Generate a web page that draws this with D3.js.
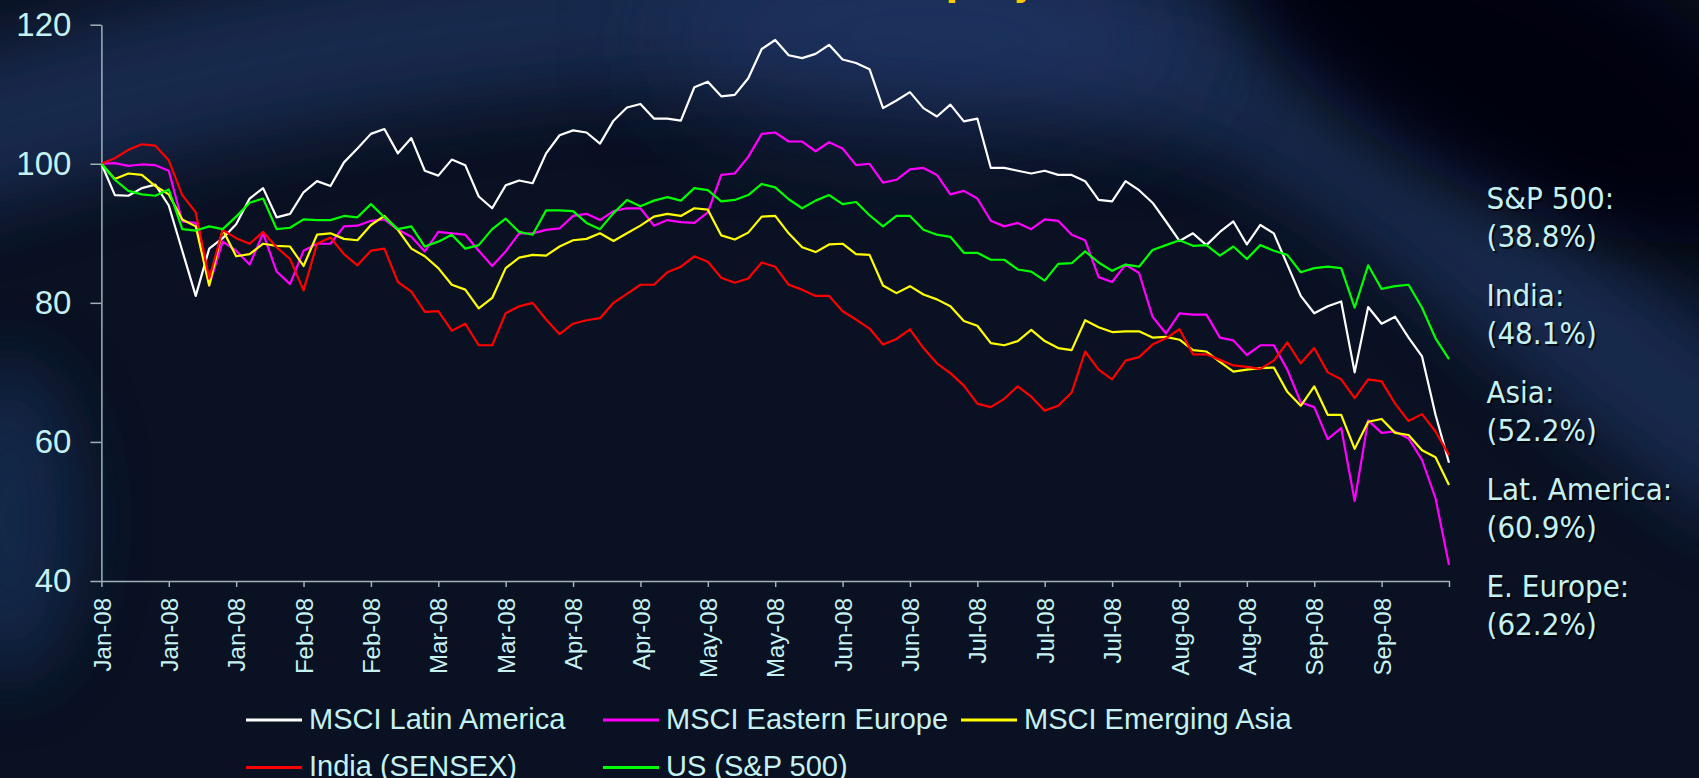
<!DOCTYPE html>
<html>
<head>
<meta charset="utf-8">
<script src="https://cdn.jsdelivr.net/npm/d3@7"></script>
<style>
  html, body { margin: 0; padding: 0; background: #0a1122; overflow: hidden; }
  svg { display: block; }
</style>
</head>
<body>
<svg id="chart" width="1699" height="778"></svg>
<script>
// every 2nd trading session, Jan-08 .. Sep-08 (index 0 = 100)
const days = d3.range(0, 201, 2);
const tickDays = d3.range(0, 201, 10);
const tickLabels = ["Jan-08", "Jan-08", "Jan-08", "Feb-08", "Feb-08", "Mar-08", "Mar-08",
  "Apr-08", "Apr-08", "May-08", "May-08", "Jun-08", "Jun-08", "Jul-08", "Jul-08", "Jul-08",
  "Aug-08", "Aug-08", "Sep-08", "Sep-08"];
const yTicks = [40, 60, 80, 100, 120];

const latam = [100, 95.5, 95.4, 96.5, 97.0, 94.0, 87.5, 81.0, 87.8, 89.3,
  91.3, 95.0, 96.5, 92.3, 92.8, 95.9, 97.5, 96.8, 100.2, 102.2,
  104.3, 105.0, 101.5, 103.7, 99.0, 98.3, 100.6, 99.8, 95.3, 93.6,
  96.9, 97.6, 97.2, 101.5, 104.1, 104.8, 104.5, 102.9, 106.2, 108.1,
  108.6, 106.5, 106.5, 106.2, 111.0, 111.8, 109.7, 109.9, 112.3, 116.5,
  117.8, 115.6, 115.2, 115.8, 117.1, 115.0, 114.5, 113.6, 108.0, 109.1,
  110.3, 108.0, 106.8, 108.5, 106.1, 106.5, 99.4, 99.4, 99.0, 98.6,
  99.0, 98.4, 98.4, 97.5, 94.8, 94.6, 97.5, 96.2, 94.4, 91.7,
  88.9, 90.0, 88.3, 90.2, 91.7, 88.4, 91.2, 90.0, 85.5, 81.0,
  78.5, 79.5, 80.2, 70.0, 79.4, 77.0, 78.0, 75.0, 72.3, 63.9, 57.0];

const eastEurope = [100, 100.1, 99.7, 99.9, 99.8, 99.0, 91.7, 91.5, 82.5, 88.8,
  87.5, 85.5, 90.0, 84.5, 82.7, 87.5, 88.5, 88.5, 91.0, 91.1,
  91.8, 92.0, 90.5, 89.5, 87.4, 90.2, 90.0, 89.8, 87.5, 85.3,
  87.4, 90.0, 90.0, 90.5, 90.7, 92.5, 92.8, 91.9, 93.2, 93.6,
  93.6, 91.1, 91.9, 91.6, 91.5, 93.0, 98.4, 98.6, 101.0, 104.3,
  104.5, 103.2, 103.2, 101.8, 103.1, 102.2, 99.8, 100.0, 97.3, 97.7,
  99.2, 99.4, 98.4, 95.6, 96.1, 95.0, 91.8, 91.0, 91.5, 90.6,
  92.0, 91.8, 89.8, 89.0, 83.7, 83.0, 85.5, 84.3, 78.0, 75.6,
  78.5, 78.3, 78.3, 75.0, 74.6, 72.5, 73.9, 73.9, 70.4, 65.7,
  65.0, 60.4, 62.0, 51.5, 63.1, 61.3, 61.5, 60.5, 57.4, 51.9, 42.3];

const emAsia = [100, 97.8, 98.6, 98.4, 96.8, 95.6, 92.0, 91.0, 82.5, 90.5,
  86.7, 87.0, 88.5, 88.2, 88.1, 85.3, 89.8, 90.0, 89.2, 89.0,
  91.2, 92.5, 90.5, 87.8, 86.7, 85.0, 82.6, 81.9, 79.2, 80.7,
  85.0, 86.5, 86.9, 86.8, 88.1, 89.0, 89.2, 90.0, 88.9, 90.0,
  91.1, 92.4, 92.8, 92.5, 93.6, 93.4, 89.7, 89.1, 90.1, 92.4,
  92.5, 90.0, 88.0, 87.3, 88.4, 88.5, 87.0, 86.9, 82.5, 81.4,
  82.4, 81.2, 80.5, 79.5, 77.4, 76.7, 74.2, 73.9, 74.5, 76.1,
  74.5, 73.5, 73.2, 77.5, 76.5, 75.8, 75.9, 75.9, 75.0, 75.1,
  74.7, 73.2, 73.0, 71.5, 70.1, 70.4, 70.6, 70.7, 67.2, 65.2,
  68.0, 63.9, 63.9, 59.0, 62.9, 63.3, 61.3, 61.0, 58.8, 57.8, 53.8];

const sensex = [100, 100.8, 102.0, 102.8, 102.6, 100.5, 95.5, 93.0, 83.5, 90.5,
  89.3, 88.5, 90.2, 88.0, 86.3, 81.8, 88.5, 89.4, 87.0, 85.4,
  87.5, 87.8, 83.0, 81.6, 78.7, 78.8, 76.0, 77.0, 73.9, 73.9,
  78.5, 79.5, 80.0, 77.6, 75.5, 77.0, 77.5, 77.8, 80.0, 81.3,
  82.6, 82.6, 84.4, 85.2, 86.7, 85.9, 83.6, 82.9, 83.5, 85.8,
  85.2, 82.6, 81.9, 81.0, 81.0, 78.8, 77.6, 76.3, 74.0, 74.8,
  76.2, 73.5, 71.3, 69.9, 68.1, 65.5, 65.0, 66.2, 68.0, 66.5,
  64.5, 65.2, 67.1, 73.0, 70.4, 69.0, 71.7, 72.2, 74.0, 74.9,
  76.2, 72.6, 72.6, 71.8, 71.0, 70.8, 70.5, 71.7, 74.3, 71.3,
  73.5, 70.0, 69.0, 66.3, 69.0, 68.7, 65.5, 63.0, 64.0, 61.5, 58.1];

const sp500 = [100, 97.7, 96.1, 95.6, 95.4, 96.3, 90.6, 90.4, 91.0, 90.6,
  92.4, 94.4, 95.0, 90.6, 90.8, 92.0, 91.9, 91.9, 92.5, 92.3,
  94.2, 92.3, 90.6, 91.0, 88.1, 88.8, 89.8, 87.8, 88.3, 90.6,
  92.1, 90.2, 89.8, 93.3, 93.3, 93.2, 91.5, 90.6, 92.9, 94.8,
  93.9, 94.7, 95.2, 94.7, 96.5, 96.2, 94.6, 94.8, 95.5, 97.1,
  96.6, 94.9, 93.6, 94.7, 95.5, 94.2, 94.5, 92.6, 91.0, 92.5,
  92.5, 90.5, 89.8, 89.5, 87.2, 87.2, 86.2, 86.2, 84.8, 84.5,
  83.2, 85.6, 85.7, 87.4, 85.8, 84.6, 85.5, 85.2, 87.6, 88.3,
  89.0, 88.2, 88.3, 86.8, 88.1, 86.3, 88.3, 87.5, 86.9, 84.4,
  85.0, 85.2, 85.0, 79.3, 85.4, 82.0, 82.4, 82.6, 79.3, 74.9, 71.9];

const seriesNames = ["MSCI Latin America", "MSCI Eastern Europe", "MSCI Emerging Asia",
  "India (SENSEX)", "US (S&P 500)"];
const seriesColors = ["#ffffff", "#ff00ff", "#ffff00", "#ff0000", "#00ff00"];
const seriesValues = [latam, eastEurope, emAsia, sensex, sp500];

const notes = [["S&P 500:", "(38.8%)"], ["India:", "(48.1%)"], ["Asia:", "(52.2%)"],
  ["Lat. America:", "(60.9%)"], ["E. Europe:", "(62.2%)"]];

const W = 1699, H = 778;
const svg = d3.select("#chart");
const textColor = "#c6f1f1";
const axisColor = "#9fb2b8";

// ---- background (slide gradient with soft glows)
const defs = svg.append("defs");
[["blur60", 60], ["blur35", 35]].forEach(function(b) {
  defs.append("filter").attr("id", b[0])
    .attr("x", "-50%").attr("y", "-50%").attr("width", "200%").attr("height", "200%")
    .append("feGaussianBlur").attr("stdDeviation", b[1]);
});
const bg = svg.append("g");
bg.append("rect").attr("width", W).attr("height", H).attr("fill", "#0a1122");
bg.append("path")
  .attr("d", "M-80,150 C250,40 700,-30 1050,30 S1450,260 1780,470")
  .attr("fill", "none").attr("stroke", "#1b315c").attr("stroke-width", 150)
  .attr("opacity", 0.75).attr("filter", "url(#blur35)");
bg.append("ellipse").attr("cx", 930).attr("cy", 40).attr("rx", 260).attr("ry", 90)
  .attr("fill", "#22396a").attr("opacity", 0.6).attr("filter", "url(#blur60)");
bg.append("ellipse").attr("cx", 1520).attr("cy", 70).attr("rx", 300).attr("ry", 130)
  .attr("transform", "rotate(25,1520,70)")
  .attr("fill", "#02050c").attr("opacity", 0.9).attr("filter", "url(#blur35)");
bg.append("ellipse").attr("cx", 10).attr("cy", 520).attr("rx", 70).attr("ry", 160)
  .attr("fill", "#15305a").attr("opacity", 0.7).attr("filter", "url(#blur35)");

// ---- title (mostly cropped off the top of the slide)
const title = svg.append("text")
  .attr("x", 0).attr("y", -6)
  .attr("font-family", "DejaVu Sans Condensed, DejaVu Sans, sans-serif")
  .attr("font-weight", "bold").attr("font-size", 40)
  .attr("fill", "#ffc800")
  .text("Global Equity Market Performance");
const qPos = title.node().getStartPositionOfChar(8).x;
title.attr("x", 952 - 0.55 * 40 * 0.9 - qPos);

// ---- scales
const x = d3.scaleLinear().domain([0, 200]).range([101.4, 1449]);
const y = d3.scaleLinear().domain([40, 120]).range([581, 24.7]);

// ---- y axis
const yAxis = svg.append("g")
  .attr("transform", "translate(" + x(0) + ",0)")
  .call(d3.axisLeft(y).tickValues(yTicks).tickSize(11).tickSizeOuter(0).tickPadding(19));
yAxis.select(".domain").attr("stroke", axisColor).attr("stroke-width", 1.5);
yAxis.selectAll(".tick line").attr("stroke", axisColor).attr("stroke-width", 1.5);
yAxis.selectAll(".tick text")
  .attr("fill", textColor)
  .attr("font-family", "Liberation Sans, Arial, sans-serif")
  .attr("font-size", 33);

// ---- x axis
const xAxis = svg.append("g")
  .attr("transform", "translate(0," + y(40) + ")")
  .call(d3.axisBottom(x).tickValues(tickDays).tickSize(6).tickSizeOuter(0)
    .tickFormat(function(d, i) { return tickLabels[i] || ""; }));
xAxis.select(".domain").attr("stroke", axisColor).attr("stroke-width", 1.5);
xAxis.selectAll(".tick line").attr("stroke", axisColor).attr("stroke-width", 1.5);
xAxis.selectAll(".tick text")
  .attr("fill", textColor)
  .attr("font-family", "Liberation Sans, Arial, sans-serif")
  .attr("font-size", 24)
  .attr("transform", "rotate(-90)")
  .attr("text-anchor", "end")
  .attr("x", -17).attr("y", 0).attr("dy", "0.36em");

// ---- lines
const line = d3.line()
  .x(function(d, i) { return x(days[i]); })
  .y(function(d) { return y(d); });

svg.append("g").selectAll("path")
  .data(seriesValues)
  .enter().append("path")
    .attr("d", line)
    .attr("fill", "none")
    .attr("stroke", function(d, i) { return seriesColors[i]; })
    .attr("stroke-width", 2.2)
    .attr("stroke-linejoin", "round");

// ---- legend
const legendPos = [[246, 720], [603, 720], [961, 720], [246, 767.5], [603, 767.5]];
const legend = svg.append("g").selectAll("g")
  .data(seriesNames)
  .enter().append("g")
    .attr("transform", function(d, i) { return "translate(" + legendPos[i][0] + "," + legendPos[i][1] + ")"; });
legend.append("line")
  .attr("x1", 0).attr("x2", 56).attr("y1", 0).attr("y2", 0)
  .attr("stroke", function(d, i) { return seriesColors[i]; })
  .attr("stroke-width", 3);
legend.append("text")
  .attr("x", 63).attr("y", 8.5)
  .attr("fill", textColor)
  .attr("font-family", "Liberation Sans, Arial, sans-serif")
  .attr("font-size", 29)
  .text(function(d) { return d; });

// ---- declines annotated on the right
const noteG = svg.append("g")
  .attr("font-family", "DejaVu Sans Condensed, DejaVu Sans, sans-serif")
  .attr("font-size", 31);
notes.forEach(function(n, k) {
  n.forEach(function(s, j) {
    const yy = 208.5 + k * 97 + j * 38.3;
    noteG.append("text").attr("x", 1488.5).attr("y", yy + 2)
      .attr("fill", "#000000").attr("opacity", 0.7).text(s);
    noteG.append("text").attr("x", 1486.5).attr("y", yy)
      .attr("fill", textColor).text(s);
  });
});
</script>
</body>
</html>
